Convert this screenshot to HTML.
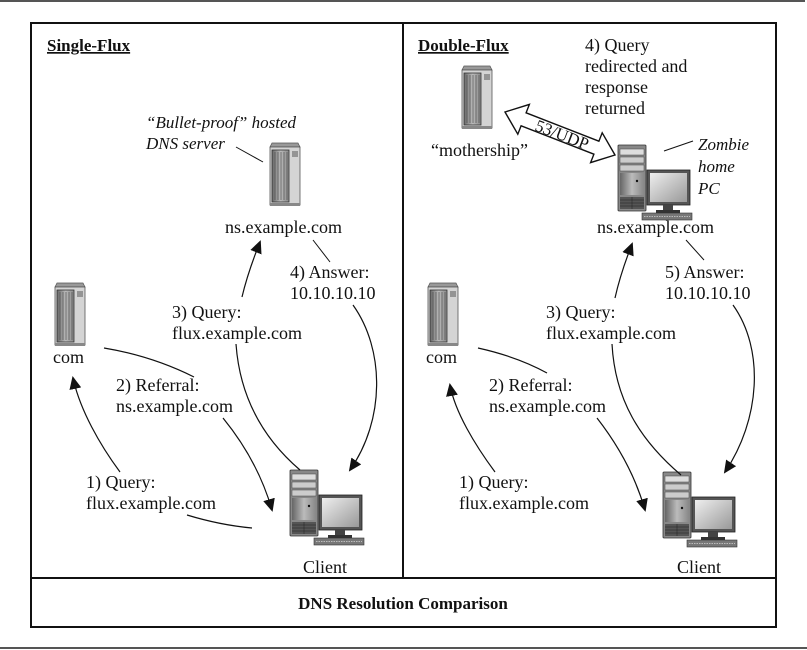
<!DOCTYPE html>
<html><head><meta charset="utf-8"><style>
html,body{margin:0;padding:0;background:#fff;}
svg{display:block;}
text{font-family:"Liberation Serif",serif;font-size:18px;fill:#111;}
.it{font-style:italic;}
.b{font-weight:bold;}
</style></head><body>
<svg width="807" height="650" viewBox="0 0 807 650" xmlns="http://www.w3.org/2000/svg">
<defs>
<marker id="ar" markerWidth="13" markerHeight="12" refX="11" refY="6" orient="auto" markerUnits="userSpaceOnUse">
<path d="M0,0 L13,6 L0,12 z" fill="#111"/>
</marker>
<linearGradient id="sg" x1="0" x2="1"><stop offset="0" stop-color="#666"/><stop offset="0.5" stop-color="#bbb"/><stop offset="1" stop-color="#888"/></linearGradient>
<linearGradient id="mg" x1="0" y1="0" x2="1" y2="1"><stop offset="0" stop-color="#eee"/><stop offset="1" stop-color="#999"/></linearGradient>
<g id="srv">
<path d="M2,0 L28,0 L30,4 L0,4 z" fill="#999" stroke="#555" stroke-width="0.7"/>
<rect x="0" y="4" width="30" height="58" fill="#d4d4d4" stroke="#555" stroke-width="0.8"/>
<rect x="2" y="7" width="17" height="52" fill="url(#sg)" stroke="#333" stroke-width="0.8"/>
<g stroke="#444" stroke-width="0.6"><line x1="5" y1="9" x2="5" y2="57"/><line x1="8" y1="9" x2="8" y2="57"/><line x1="11" y1="9" x2="11" y2="57"/><line x1="14" y1="9" x2="14" y2="57"/><line x1="17" y1="9" x2="17" y2="57"/></g>
<g stroke="#333" stroke-width="0.8"><line x1="22" y1="9" x2="28" y2="9"/><line x1="22" y1="11" x2="28" y2="11"/><line x1="22" y1="13" x2="28" y2="13"/></g>
<rect x="0" y="60" width="30" height="3" fill="#888"/>
</g>
<g id="pc">
<rect x="0" y="0" width="28" height="66" rx="1" fill="#888" stroke="#333" stroke-width="0.8"/>
<rect x="2" y="4" width="24" height="6" fill="#ddd" stroke="#444" stroke-width="0.5"/>
<rect x="2" y="12" width="24" height="6" fill="#ccc" stroke="#444" stroke-width="0.5"/>
<rect x="2" y="20" width="24" height="6" fill="#ccc" stroke="#444" stroke-width="0.5"/>
<rect x="2" y="28" width="24" height="22" fill="url(#sg)"/>
<circle cx="19" cy="36" r="1.2" fill="#111"/>
<rect x="2" y="52" width="24" height="12" fill="#555"/>
<g stroke="#222" stroke-width="0.5"><line x1="2" y1="55" x2="26" y2="55"/><line x1="2" y1="58" x2="26" y2="58"/><line x1="2" y1="61" x2="26" y2="61"/><line x1="14" y1="52" x2="14" y2="64"/></g>
<rect x="29" y="25" width="43" height="35" fill="#555" stroke="#222" stroke-width="0.8"/>
<rect x="32" y="28" width="37" height="29" fill="url(#mg)"/>
<rect x="45" y="60" width="10" height="6" fill="#444"/>
<rect x="38" y="65" width="24" height="3" fill="#333"/>
<rect x="24" y="68" width="50" height="7" fill="#777" stroke="#333" stroke-width="0.6"/>
<line x1="26" y1="71.5" x2="72" y2="71.5" stroke="#bbb" stroke-width="1" stroke-dasharray="1.5 1"/>
</g>
</defs>

<!-- frame -->
<line x1="0" y1="1" x2="805" y2="1" stroke="#555" stroke-width="2"/>
<rect x="31" y="23" width="745" height="604" fill="none" stroke="#111" stroke-width="2"/>
<line x1="403" y1="23" x2="403" y2="578" stroke="#111" stroke-width="2"/>
<line x1="31" y1="578" x2="776" y2="578" stroke="#111" stroke-width="2"/>
<line x1="0" y1="648" x2="807" y2="648" stroke="#555" stroke-width="2"/>
<text x="403" y="609" text-anchor="middle" class="b" style="font-size:17px">DNS Resolution Comparison</text>

<!-- LEFT -->
<text x="47" y="51" class="b" style="font-size:17px;text-decoration:underline">Single-Flux</text>
<text x="146" y="128" class="it" style="font-size:17px">“Bullet-proof” hosted</text>
<text x="146" y="149" class="it" style="font-size:17px">DNS server</text>
<line x1="236" y1="147" x2="263" y2="162" stroke="#111" stroke-width="1"/>
<use href="#srv" x="270" y="143"/>
<text x="225" y="233">ns.example.com</text>
<line x1="313" y1="240" x2="330" y2="262" stroke="#111" stroke-width="1"/>
<text x="290" y="278">4) Answer:</text>
<text x="290" y="299">10.10.10.10</text>
<text x="172" y="318">3) Query:</text>
<text x="172" y="339">flux.example.com</text>
<use href="#srv" x="55" y="283"/>
<text x="53" y="363">com</text>
<text x="116" y="391">2) Referral:</text>
<text x="116" y="412">ns.example.com</text>
<text x="86" y="488">1) Query:</text>
<text x="86" y="509">flux.example.com</text>
<use href="#pc" x="290" y="470"/>
<text x="303" y="573">Client</text>
<g fill="none" stroke="#111" stroke-width="1.2">
<path d="M120,472 C100,445 80,410 73,378" marker-end="url(#ar)"/>
<path d="M187,515 C210,522 230,526 252,528"/>
<path d="M104,348 C140,354 170,365 194,377"/>
<path d="M223,418 C245,445 262,475 272,510" marker-end="url(#ar)"/>
<path d="M242,297 C246,280 252,262 260,242" marker-end="url(#ar)"/>
<path d="M236,344 C240,400 265,440 300,470"/>
<path d="M353,305 C385,350 385,420 350,470" marker-end="url(#ar)"/>
</g>

<!-- RIGHT -->
<text x="418" y="51" class="b" style="font-size:17px;text-decoration:underline">Double-Flux</text>
<text x="585" y="51">4) Query</text>
<text x="585" y="72">redirected and</text>
<text x="585" y="93">response</text>
<text x="585" y="114">returned</text>
<use href="#srv" x="462" y="66"/>
<text x="431" y="156">“mothership”</text>
<path d="M505,112 L529.4,104.4 L526.1,112.8 L598.9,141.2 L602.2,132.8 L615,155 L590.6,162.6 L593.9,154.2 L521.1,125.8 L517.8,134.2 z" fill="#fff" stroke="#111" stroke-width="1.4"/>
<text x="0" y="0" text-anchor="middle" transform="translate(560,140) rotate(21)" style="font-size:17px">53/UDP</text>
<use href="#pc" x="618" y="145"/>
<line x1="664" y1="151" x2="693" y2="141" stroke="#111" stroke-width="1"/>
<text x="698" y="150" class="it" style="font-size:17px">Zombie</text>
<text x="698" y="172" class="it" style="font-size:17px">home</text>
<text x="698" y="194" class="it" style="font-size:17px">PC</text>
<text x="597" y="233">ns.example.com</text>
<line x1="686" y1="240" x2="704" y2="260" stroke="#111" stroke-width="1"/>
<text x="665" y="278">5) Answer:</text>
<text x="665" y="299">10.10.10.10</text>
<text x="546" y="318">3) Query:</text>
<text x="546" y="339">flux.example.com</text>
<use href="#srv" x="428" y="283"/>
<text x="426" y="363">com</text>
<text x="489" y="391">2) Referral:</text>
<text x="489" y="412">ns.example.com</text>
<text x="459" y="488">1) Query:</text>
<text x="459" y="509">flux.example.com</text>
<use href="#pc" x="663" y="472"/>
<text x="677" y="573">Client</text>
<g fill="none" stroke="#111" stroke-width="1.2">
<path d="M495,472 C475,445 455,412 450,385" marker-end="url(#ar)"/>
<path d="M478,348 C505,354 527,362 547,373"/>
<path d="M597,418 C618,445 635,475 645,510" marker-end="url(#ar)"/>
<path d="M615,298 C619,280 625,262 632,244" marker-end="url(#ar)"/>
<path d="M612,344 C615,400 640,440 681,475"/>
<path d="M733,305 C765,350 760,420 725,472" marker-end="url(#ar)"/>
</g>
</svg>
</body></html>
